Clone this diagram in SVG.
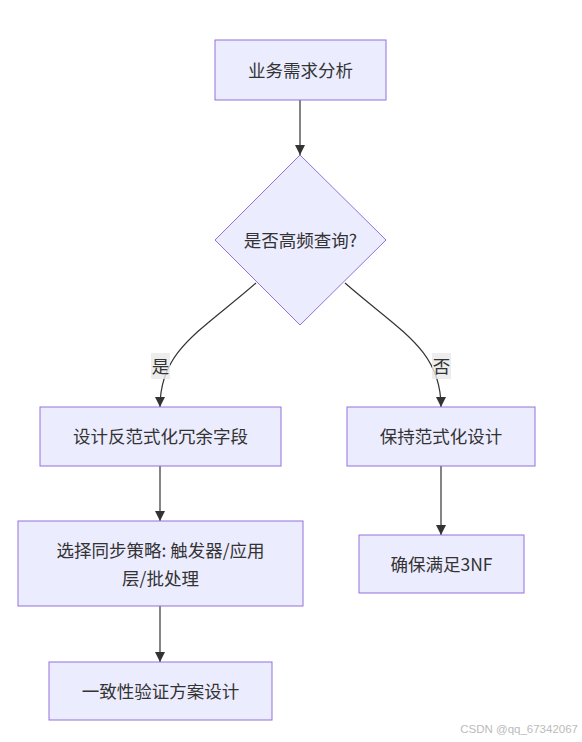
<svg xmlns="http://www.w3.org/2000/svg" width="582" height="742" viewBox="0 0 582 742">
<style>
.node{fill:#ECECFF;stroke:#9370DB;stroke-width:1}
.lbl{font-family:"Noto Sans CJK SC","Liberation Sans",sans-serif;font-size:17.5px;fill:#333;text-anchor:middle;dominant-baseline:central}
.edge{fill:none;stroke:#333;stroke-width:1.2}
.elbl{fill:#E8E8E8;opacity:0.8}
.wm{font-family:"Liberation Sans",sans-serif;font-size:11.5px;fill:#bbb;text-anchor:end}
</style>
<defs>
<marker id="arr" viewBox="0 0 10 10" refX="10" refY="5" markerWidth="10" markerHeight="10" markerUnits="userSpaceOnUse" orient="auto">
<path d="M0,0 L10,5 L0,10 z" fill="#333"/>
</marker>
</defs>
<rect width="582" height="742" fill="#fff"/>
<g id="connectors">
<path class="edge" d="M300,100 L300,155" marker-end="url(#arr)"/>
<path class="edge" d="M256,283 C200,332 160,350 160,407" marker-end="url(#arr)"/>
<path class="edge" d="M345,283 C401,332 441,350 441,407" marker-end="url(#arr)"/>
<path class="edge" d="M160,466 L160,521" marker-end="url(#arr)"/>
<path class="edge" d="M160,606 L160,662" marker-end="url(#arr)"/>
<path class="edge" d="M441,466 L441,535" marker-end="url(#arr)"/>
<rect class="elbl" x="151" y="353" width="19" height="26"/>
<text class="lbl" x="160.5" y="365">是</text>
<rect class="elbl" x="432" y="353" width="19" height="26"/>
<text class="lbl" x="441.5" y="365">否</text>
</g>
<g id="A">
<rect class="node" x="215" y="40" width="171" height="60"/>
<text class="lbl" x="300.5" y="69">业务需求分析</text>
</g>
<g id="B">
<polygon class="node" points="300,155 386,240 300,325 215,240"/>
<text class="lbl" x="300.5" y="239">是否高频查询?</text>
</g>
<g id="C">
<rect class="node" x="40" y="407" width="241" height="59"/>
<text class="lbl" x="160.5" y="435">设计反范式化冗余字段</text>
</g>
<g id="D">
<rect class="node" x="347" y="407" width="188" height="59"/>
<text class="lbl" x="441" y="435">保持范式化设计</text>
</g>
<g id="E">
<rect class="node" x="18" y="521" width="285" height="85"/>
<text class="lbl" x="160.5" y="549">选择同步策略: 触发器/应用</text>
<text class="lbl" x="160.5" y="577">层/批处理</text>
</g>
<g id="F">
<rect class="node" x="49" y="662" width="223" height="58"/>
<text class="lbl" x="160.5" y="690">一致性验证方案设计</text>
</g>
<g id="G">
<rect class="node" x="359" y="535" width="165" height="58"/>
<text class="lbl" x="441.5" y="563">确保满足3NF</text>
</g>
<text class="wm" x="578" y="733">CSDN @qq_67342067</text>
</svg>
